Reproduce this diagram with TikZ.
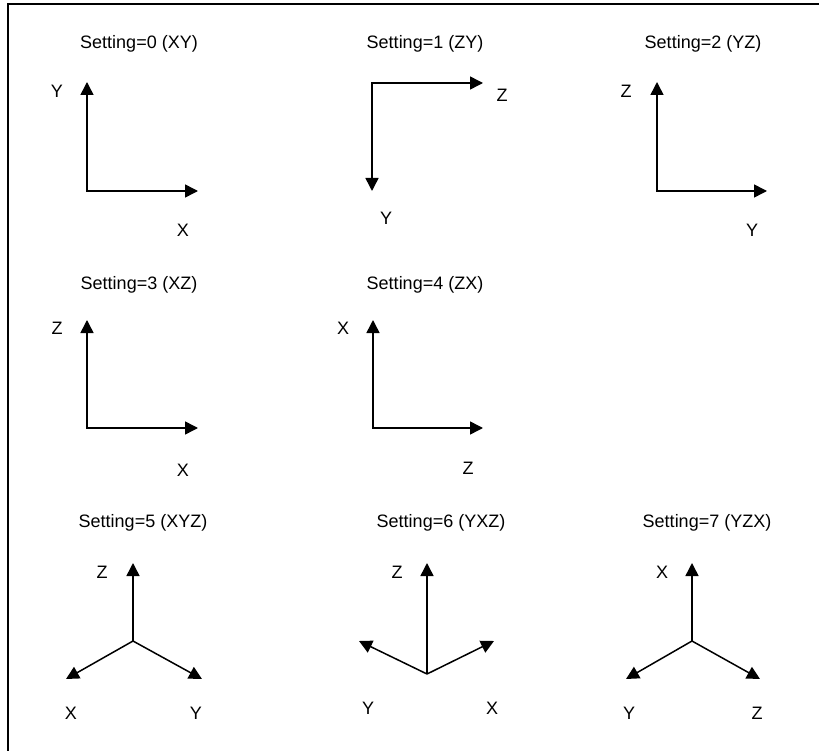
\documentclass[tikz,border=0pt]{standalone}
\usepackage{fontspec}
\setmainfont{Liberation Sans}
\usepackage{tikz}
\usetikzlibrary{arrows.meta}
\tikzset{
  axis/.style={line width=1.5pt, -{Triangle[length=13pt,width=13pt]}},
  axes/.style={line width=1.5pt, {Triangle[length=13pt,width=13pt]}-{Triangle[length=13pt,width=13pt]}},
  lbl/.style={font=\fontsize{18}{21}\selectfont, inner sep=0pt},
}
\begin{document}
\begin{tikzpicture}[x=1pt,y=-1pt]
\useasboundingbox (0,0) rectangle (819,751);
% Rahmen
\draw[line width=1.5pt] (8,751) -- (8,4) -- (819,4);
% Setting 0
\begin{scope}
\node[lbl] (t0) at (139,44) {Setting=0 (XY)};
\coordinate (o0) at (87,191);
\coordinate (x0) at (198,191);
\coordinate (y0) at (87,82);
\draw[axes] (y0) -- (o0) -- (x0);
\node[lbl] (ly0) at (57,91) {Y};
\node[lbl] (lx0) at (183,230) {X};
\end{scope}
% Setting 1
\begin{scope}
\node[lbl] (t1) at (425,44) {Setting=1 (ZY)};
\coordinate (o1) at (372,83);
\coordinate (z1) at (483,83);
\coordinate (y1) at (372,191);
\draw[axes] (z1) -- (o1) -- (y1);
\node[lbl] (lz1) at (502,95) {Z};
\node[lbl] (ly1) at (386,218) {Y};
\end{scope}
% Setting 2
\begin{scope}
\node[lbl] (t2) at (703,44) {Setting=2 (YZ)};
\coordinate (o2) at (657,191);
\coordinate (z2) at (657,82);
\coordinate (y2) at (767,191);
\draw[axes] (z2) -- (o2) -- (y2);
\node[lbl] (lz2) at (626,91) {Z};
\node[lbl] (ly2) at (752,230) {Y};
\end{scope}
% Setting 3
\begin{scope}
\node[lbl] (t3) at (139,285) {Setting=3 (XZ)};
\coordinate (o3) at (87,428);
\coordinate (z3) at (87,320);
\coordinate (x3) at (198,428);
\draw[axes] (z3) -- (o3) -- (x3);
\node[lbl] (lz3) at (57,328) {Z};
\node[lbl] (lx3) at (183,470) {X};
\end{scope}
% Setting 4
\begin{scope}
\node[lbl] (t4) at (425,285) {Setting=4 (ZX)};
\coordinate (o4) at (373,428);
\coordinate (x4) at (373,320);
\coordinate (z4) at (483,428);
\draw[axes] (x4) -- (o4) -- (z4);
\node[lbl] (lx4) at (343,328) {X};
\node[lbl] (lz4) at (468,468) {Z};
\end{scope}
% Setting 5
\begin{scope}
\node[lbl] (t5) at (143,523) {Setting=5 (XYZ)};
\coordinate (o5) at (133,641);
\coordinate (z5) at (133,563);
\coordinate (x5) at (66,679);
\coordinate (y5) at (202,679);
\draw[axis] (o5) -- (z5);
\draw[axis] (o5) -- (x5);
\draw[axis] (o5) -- (y5);
\node[lbl] (lz5) at (102,572) {Z};
\node[lbl] (lx5) at (71,713) {X};
\node[lbl] (ly5) at (196,713) {Y};
\end{scope}
% Setting 6
\begin{scope}
\node[lbl] (t6) at (441,523) {Setting=6 (YXZ)};
\coordinate (o6) at (427,674);
\coordinate (z6) at (427,563);
\coordinate (y6) at (359,641);
\coordinate (x6) at (494,641);
\draw[axis] (o6) -- (z6);
\draw[axis] (o6) -- (y6);
\draw[axis] (o6) -- (x6);
\node[lbl] (lz6) at (397,572) {Z};
\node[lbl] (ly6) at (368,708) {Y};
\node[lbl] (lx6) at (492,708) {X};
\end{scope}
% Setting 7
\begin{scope}
\node[lbl] (t7) at (707,523) {Setting=7 (YZX)};
\coordinate (o7) at (692,641);
\coordinate (x7) at (692,563);
\coordinate (y7) at (626,679);
\coordinate (z7) at (760,679);
\draw[axis] (o7) -- (x7);
\draw[axis] (o7) -- (y7);
\draw[axis] (o7) -- (z7);
\node[lbl] (lx7) at (662,572) {X};
\node[lbl] (ly7) at (629,713) {Y};
\node[lbl] (lz7) at (757,713) {Z};
\end{scope}
\end{tikzpicture}
\end{document}
